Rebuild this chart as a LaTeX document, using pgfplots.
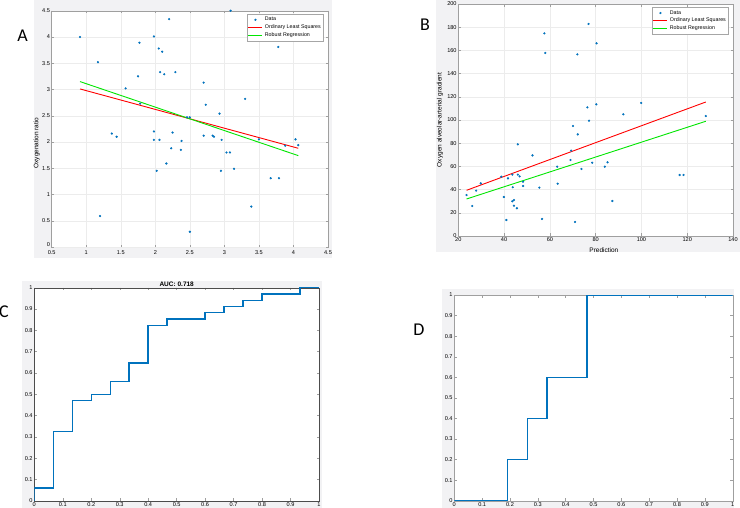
\documentclass[border=0pt]{standalone}
\usepackage{fontspec}
\setmainfont{Liberation Sans}
\newfontfamily\carlito{Carlito}
\usepackage{pgfplots}
\usepackage{pgfplotstable}
\pgfplotsset{compat=1.18}

\definecolor{mblue}{RGB}{0,114,189}
\definecolor{figgray}{RGB}{242,242,244}
\definecolor{mgreen}{RGB}{0,230,0}

\pgfplotsset{
  mstyle/.style={
    scale only axis,
    tick align=inside,
    axis background/.style={fill=white},
    tick label style={font=\fontsize{5.6}{6.5}\selectfont},
    label style={font=\fontsize{6.5}{7}\selectfont},
    /pgf/number format/assume math mode=true,
    axis line style={gray!75},
    every tick/.style={gray!75},
    major tick length=2.5pt,
    xticklabel style={inner sep=1pt, yshift=-0.8pt},
    yticklabel style={inner sep=1.5pt},
  },
  mgrid/.style={grid=major, major grid style={gray!15}},
  mleg/.style={legend style={font=\fontsize{5.3}{5.5}\selectfont, draw=gray!70, inner sep=0.8pt, row sep=-1.5pt, at={(0.985,0.985)}, anchor=north east, legend cell align=left},
    legend image code/.code={\draw[mark repeat=2, mark phase=2, ##1] plot coordinates {(0pt,0pt) (7pt,0pt) (14pt,0pt)};}}
}

\pgfplotstableread{
x y
0.91 4.00
1.17 3.52
1.20 0.59
1.37 2.16
1.44 2.10
1.57 3.02
1.75 3.25
1.77 3.89
1.78 2.73
1.98 4.01
1.98 2.20
1.98 2.04
2.02 1.45
2.05 3.78
2.06 2.04
2.07 3.33
2.10 3.72
2.13 3.29
2.16 1.59
2.20 4.34
2.23 1.88
2.25 2.18
2.29 3.33
2.37 1.85
2.38 2.02
2.46 2.47
2.50 2.47
2.50 0.29
2.70 3.13
2.70 2.12
2.73 2.71
2.83 2.12
2.85 2.10
2.93 2.54
2.95 1.45
2.96 2.04
3.03 1.80
3.08 1.80
3.09 4.50
3.14 1.49
3.30 2.82
3.39 0.77
3.50 2.05
3.67 1.31
3.78 3.81
3.79 1.31
3.88 1.93
4.03 2.05
4.07 1.94
}\dataA

\pgfplotstableread{
x y
23.6 35.3
26.1 25.9
27.8 39.1
29.8 45.4
38.8 51.1
39.9 33.6
41.0 13.8
41.7 49.7
43.6 52.9
43.8 42.0
43.6 29.9
44.3 31.0
44.3 26.1
45.6 23.9
46.0 79.0
46.0 52.9
46.8 51.4
48.3 46.8
48.3 43.1
52.4 69.5
55.4 41.7
56.6 14.7
57.6 174.7
58.0 157.8
63.2 59.8
63.4 45.1
69.0 65.5
69.3 73.6
70.1 94.8
71.0 12.1
72.0 156.6
72.2 87.6
73.8 57.8
76.4 110.9
76.9 182.8
77.1 99.4
78.5 63.2
80.3 113.5
80.4 166.1
84.0 59.8
85.2 63.5
87.3 30.2
92.1 104.9
99.9 114.7
116.7 52.6
118.4 52.6
128.1 103.4
}\dataB

\begin{document}
\begin{tikzpicture}
\path[use as bounding box] (0pt,0pt) rectangle (740pt,-508pt);
% figure background patches
\fill[figgray] (34pt,0pt) rectangle (332pt,-258pt);
\fill[figgray] (436pt,0pt) rectangle (740pt,-252pt);
\fill[figgray] (22pt,-281pt) rectangle (322pt,-508pt);
\fill[figgray] (442pt,-289pt) rectangle (734pt,-508pt);

% ---------- Panel A ----------
\begin{axis}[mstyle, mgrid, mleg,
  at={(51.7pt,-247pt)}, anchor=south west,
  width=276.3pt, height=236.3pt,
  xmin=0.5, xmax=4.5, ymin=0, ymax=4.5,
  xtick={0.5,1,1.5,2,2.5,3,3.5,4,4.5},
  xticklabel style={yshift=-1.2pt},
  ytick={0.5,1,1.5,2,2.5,3,3.5,4,4.5},
  extra y ticks={0},
  extra y tick style={yticklabel style={yshift=2pt}},
  ylabel={Oxygenation ratio},
  ylabel style={at={(axis description cs:-0.054,0.44)}, anchor=center},
]
\addplot[only marks, mark=*, mark size=0.9pt, mblue] table[x=x,y=y] {\dataA};
\addlegendentry{Data}
\addplot[red, line width=0.9pt] coordinates {(0.91,3.01) (4.07,1.88)};
\addlegendentry{Ordinary Least Squares}
\addplot[mgreen, line width=0.9pt] coordinates {(0.91,3.15) (4.07,1.74)};
\addlegendentry{Robust Regression}
\end{axis}

% ---------- Panel B ----------
\begin{axis}[mstyle, mgrid, mleg,
  at={(458.3pt,-236pt)}, anchor=south west,
  width=274.7pt, height=232pt,
  xmin=20, xmax=140, ymin=0, ymax=200,
  xtick={20,40,...,140},
  ytick={0,20,...,200},
  xlabel={Prediction},
  xlabel style={at={(axis description cs:0.53,-0.035)}, anchor=north},
  ylabel={Oxygen alveolar-arterial gradient},
  ylabel style={at={(axis description cs:-0.067,0.5)}, anchor=center},
]
\addplot[only marks, mark=*, mark size=0.9pt, mblue] table[x=x,y=y] {\dataB};
\addlegendentry{Data}
\addplot[red, line width=0.9pt] coordinates {(23.6,39.4) (128.1,115.5)};
\addlegendentry{Ordinary Least Squares}
\addplot[mgreen, line width=0.9pt] coordinates {(23.6,31.9) (128.1,98.9)};
\addlegendentry{Robust Regression}
\end{axis}

% ---------- Panel C ----------
\begin{axis}[mstyle,
  at={(34.3pt,-500.7pt)}, anchor=south west,
  width=284.7pt, height=213pt,
  xmin=0, xmax=1, ymin=0, ymax=1,
  xtick={0,0.1,...,1}, ytick={0,0.1,...,1},
  axis line style={gray!60!black},
]
\addplot[mblue, line width=1.4pt] coordinates {
(0,0) (0,0.0588) (0.0667,0.0588) (0.0667,0.3235) (0.1333,0.3235) (0.1333,0.4706)
(0.2,0.4706) (0.2,0.5) (0.2667,0.5) (0.2667,0.5588) (0.3333,0.5588) (0.3333,0.6471)
(0.4,0.6471) (0.4,0.8235) (0.4667,0.8235) (0.4667,0.8529) (0.6,0.8529) (0.6,0.8824)
(0.6667,0.8824) (0.6667,0.9118) (0.7333,0.9118) (0.7333,0.9412) (0.8,0.9412) (0.8,0.9706)
(0.9333,0.9706) (0.9333,1) (1,1)};
\end{axis}
\begin{scope}
\clip (100pt,-282pt) rectangle (260pt,-295pt);
\node[anchor=base, font=\bfseries\fontsize{6.5}{7}\selectfont, inner sep=0pt] at (176.7pt,-286.5pt) {AUC: 0.718};
\end{scope}

% ---------- Panel D ----------
\begin{axis}[mstyle,
  at={(454.3pt,-500.7pt)}, anchor=south west,
  width=278.4pt, height=205.7pt,
  xmin=0, xmax=1, ymin=0, ymax=1,
  xtick={0,0.1,...,1}, ytick={0,0.1,...,1},
]
\addplot[mblue, line width=1.4pt] coordinates {
(0,0) (0.1905,0) (0.1905,0.2) (0.2619,0.2) (0.2619,0.4) (0.3333,0.4)
(0.3333,0.6) (0.4762,0.6) (0.4762,1) (1,1)};
\end{axis}

% panel letters
\node[anchor=base, font=\carlito\fontsize{18}{18}\selectfont, inner sep=0pt] at (22.5pt,-42pt) {A};
\node[anchor=base, font=\carlito\fontsize{18}{18}\selectfont, inner sep=0pt] at (425pt,-31pt) {B};
\node[anchor=base, font=\carlito\fontsize{18}{18}\selectfont, inner sep=0pt] at (4pt,-317pt) {C};
\node[anchor=base, font=\carlito\fontsize{18}{18}\selectfont, inner sep=0pt] at (419pt,-335pt) {D};
\end{tikzpicture}
\end{document}
